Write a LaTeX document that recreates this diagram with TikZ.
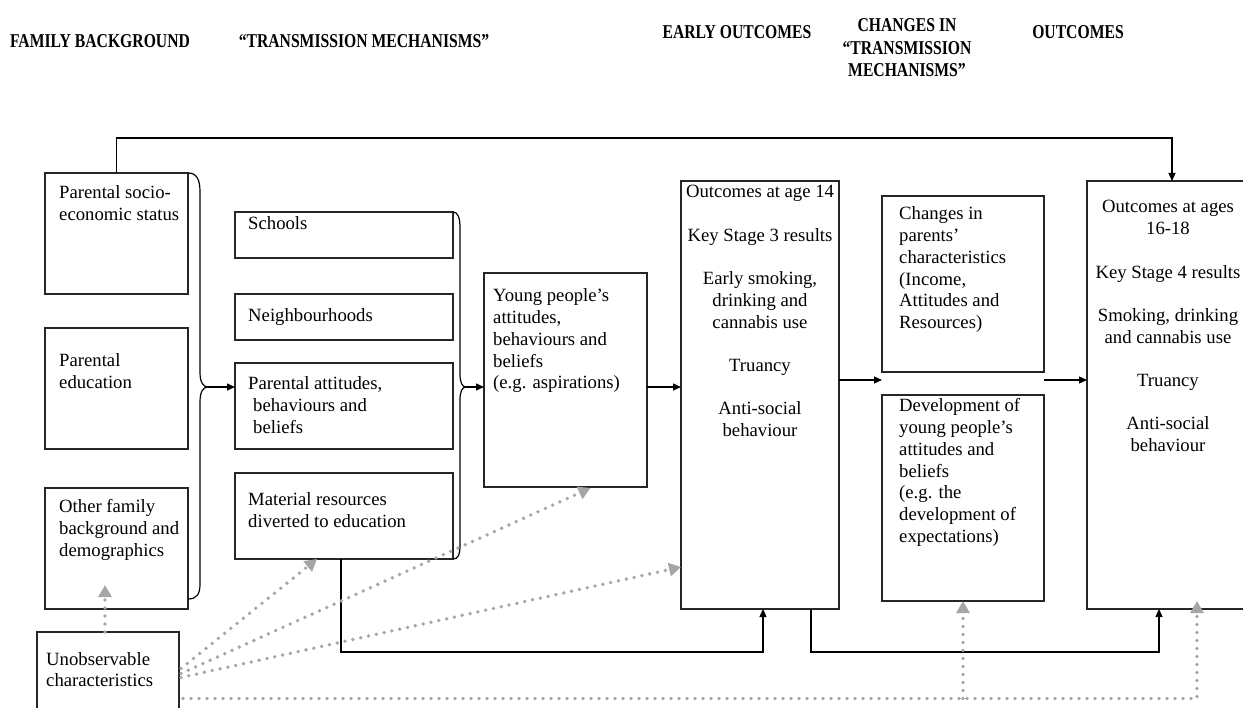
\documentclass[tikz,border=0pt]{standalone}
\usepackage{fontspec}
\usepackage{graphicx}
\setmainfont{Liberation Serif}
\usetikzlibrary{arrows.meta,calc}
\definecolor{dotgrey}{RGB}{166,166,166}
\newcommand\Lft[1]{\begin{tabular}[t]{@{}l@{}}#1\end{tabular}}
\newcommand\Ctr[1]{\begin{tabular}[t]{@{}c@{}}#1\end{tabular}}
\newcommand\bodysize{\fontsize{18.7}{21.7}\selectfont}
\newcommand\hdrsize{\fontsize{19.6}{22.5}\selectfont\bfseries}
\tikzset{
  box/.style={draw=black!85, line width=1.2pt, inner sep=0pt, outer sep=0pt, anchor=north west},
  txt/.style={font=\bodysize, inner sep=0pt, anchor=base west},
  ctxt/.style={font=\bodysize, inner sep=0pt, anchor=base},
  hdr/.style={font=\hdrsize, inner sep=0pt, anchor=base},
  ln/.style={line width=1.2pt},
  arr/.style={line width=1.2pt, -{Triangle[length=8pt,width=7pt]}},
  dotln/.style={dotgrey, line width=3.8pt, line cap=round, dash pattern=on 0pt off 8pt},
  dotarr/.style={dotln, -{Triangle[length=12pt,width=13pt]}}
}
\begin{document}
\begin{tikzpicture}[x=1pt,y=-1pt]
\useasboundingbox (0,0) rectangle (1243,708);
\begin{scope}
\clip (0,0) rectangle (1243,708);
% headers
\node[hdr] (h1) at (100,48) {\scalebox{0.8}[1]{FAMILY BACKGROUND}};
\node[hdr] (h2) at (364,48) {\scalebox{0.8}[1]{“TRANSMISSION MECHANISMS”}};
\node[hdr] (h3) at (737,39) {\scalebox{0.8}[1]{EARLY OUTCOMES}};
\node[hdr] (h4) at (907,32) {\scalebox{0.8}[1]{\Ctr{CHANGES IN\\“TRANSMISSION\\MECHANISMS”}}};
\node[hdr] (h5) at (1078,39) {\scalebox{0.8}[1]{OUTCOMES}};

% boxes
\node[box, minimum width=143pt, minimum height=121pt] (ses) at (45,173) {};
\node[box, minimum width=143pt, minimum height=121pt] (pedu) at (45,328) {};
\node[box, minimum width=143pt, minimum height=121pt] (ofam) at (45,488) {};
\node[box, minimum width=142pt, minimum height=83pt] (unobs) at (37,632) {};
\node[box, minimum width=218pt, minimum height=46pt] (schools) at (235,212) {};
\node[box, minimum width=218pt, minimum height=46pt] (neigh) at (235,294) {};
\node[box, minimum width=218pt, minimum height=86pt] (patt) at (235,363) {};
\node[box, minimum width=218pt, minimum height=86pt] (mat) at (235,473) {};
\node[box, minimum width=163pt, minimum height=214pt] (young) at (484,273) {};
\node[box, minimum width=158pt, minimum height=428pt] (out14) at (681,181) {};
\node[box, minimum width=162pt, minimum height=176pt] (chg) at (882,196) {};
\node[box, minimum width=162pt, minimum height=206pt] (dev) at (882,395) {};
\node[box, minimum width=162pt, minimum height=428pt] (out18) at (1087,181) {};

% texts
\node[txt] (tses) at ($(ses.north west)+(14,26)$) {\Lft{Parental socio-\\economic status}};
\node[txt] (tpedu) at ($(pedu.north west)+(14,39)$) {\Lft{Parental\\education}};
\node[txt] (tofam) at ($(ofam.north west)+(14,25)$) {\Lft{Other family\\background and\\demographics}};
\node[txt] (tunobs) at ($(unobs.north west)+(9,33)$) {\Lft{Unobservable\\characteristics}};
\node[txt] (tschools) at ($(schools.north west)+(13,18)$) {Schools};
\node[txt] (tneigh) at ($(neigh.north west)+(13,28)$) {Neighbourhoods};
\node[txt] (tpatt) at ($(patt.north west)+(13,27)$) {\Lft{Parental attitudes,\\\hspace{5pt}behaviours and\\\hspace{5pt}beliefs}};
\node[txt] (tmat) at ($(mat.north west)+(13,33)$) {\Lft{Material resources\\diverted to education}};
\node[txt] (tyoung) at ($(young.north west)+(9,29)$) {\Lft{Young people’s\\attitudes,\\behaviours and\\beliefs\\(e.g. aspirations)}};
\node[ctxt] (tout14) at ($(out14.north)+(0,17)$) {\Ctr{Outcomes at age 14\\ \\Key Stage 3 results\\ \\Early smoking,\\drinking and\\cannabis use\\ \\Truancy\\ \\Anti-social\\behaviour}};
\node[txt] (tchg) at ($(chg.north west)+(17,24)$) {\Lft{Changes in\\parents’\\characteristics\\(Income,\\Attitudes and\\Resources)}};
\node[txt] (tdev) at ($(dev.north west)+(17,17)$) {\Lft{Development of\\young people’s\\attitudes and\\beliefs\\(e.g. the\\development of\\expectations)}};
\node[ctxt] (tout18) at ($(out18.north)+(0,32)$) {\Ctr{Outcomes at ages\\16-18\\ \\Key Stage 4 results\\ \\Smoking, drinking\\and cannabis use\\ \\Truancy\\ \\Anti-social\\behaviour}};

% braces and arrows
\coordinate (b1) at (208,387);
\coordinate (b2) at (466,387);
\coordinate (r1) at (0,380);
\draw[ln] (ses.north east) .. controls (197,173) and (200,180) .. (200,192) -- (200,372)
  .. controls (200,382) and (203,387) .. (b1)
  .. controls (203,387) and (200,392) .. (200,402) -- (200,584)
  .. controls (200,594) and (197,599) .. ($(ofam.south east)+(0,-10)$);
\draw[arr] (b1) -- (b1 -| patt.west);
\draw[ln] (schools.north east) .. controls (458,212) and (460,218) .. (460,228) -- (460,374)
  .. controls (460,382) and (462,387) .. (b2)
  .. controls (462,387) and (460,392) .. (460,400) -- (460,545)
  .. controls (460,555) and (458,559) .. (mat.south east);
\draw[arr] (b2) -- (b2 -| young.west);
\draw[arr] (b2 -| young.east) -- (b2 -| out14.west);
\draw[arr] (out14.east |- r1) -- (chg.west |- r1);
\draw[arr] (chg.east |- r1) -- (out18.west |- r1);
\draw[arr] (ses.north) -- ++(0,-35) -| ($(out18.north)+(4,0)$);
\draw[arr] ($(mat.south)+(-3,0)$) -- ++(0,93) -| ($(out14.south)+(3,0)$);
\draw[arr] ($(out14.south east)+(-28,0)$) -- ++(0,43) -| ($(out18.south)+(-9,0)$);

% dotted influences
\coordinate (bl) at ($(unobs.east)+(4,25)$);
\draw[dotarr] ($(unobs.north)+(-3,0)$) -- ++(0,-47);
\draw[dotarr] ($(unobs.east)+(2,-5)$) -- ($(mat.south)+(-27,0)$);
\draw[dotarr] ($(unobs.east)+(2,0)$) -- ($(young.south)+(25,1)$);
\draw[dotarr] ($(unobs.east)+(2,4)$) -- ($(out14.south west)+(0,-42)$);
\draw[dotarr] (bl) -| ($(out18.south)+(29,-8)$);
\draw[dotarr] (bl -| dev.south) -- (dev.south);
\end{scope}
\end{tikzpicture}
\end{document}
